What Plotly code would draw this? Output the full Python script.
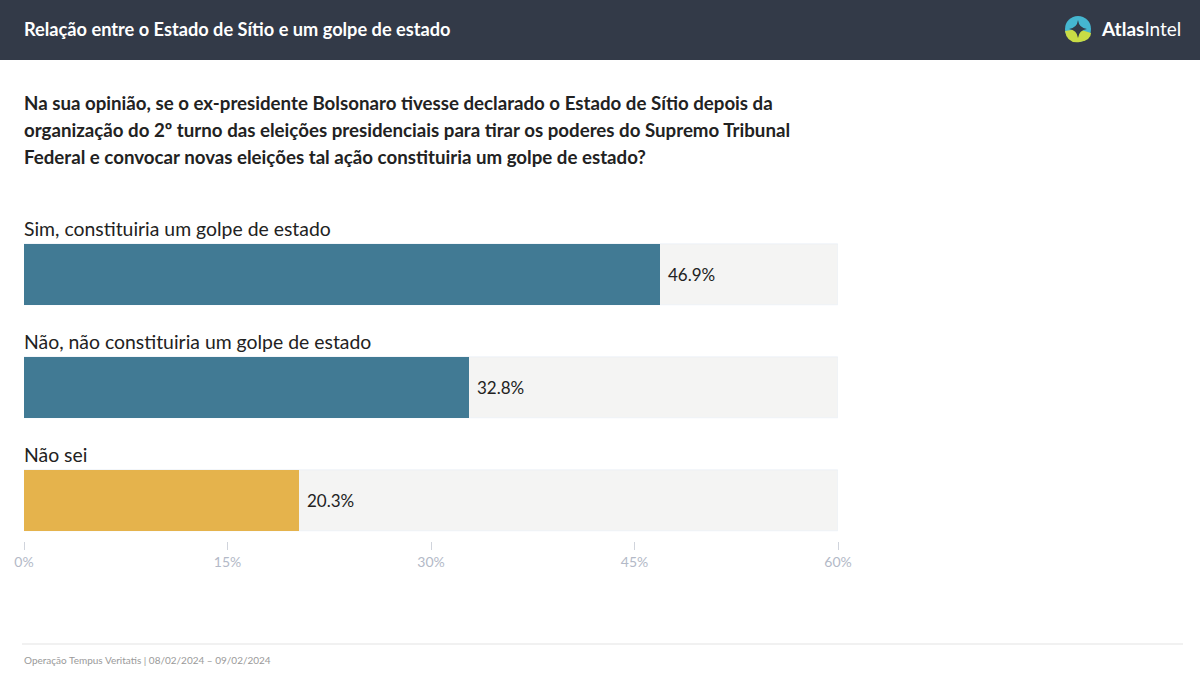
import plotly.graph_objects as go

# Data
categories = ["Sim, constituiria um golpe de estado",
              "Não, não constituiria um golpe de estado",
              "Não sei"]
values = [46.9, 32.8, 20.3]
bar_colors = ["#417a94", "#417a94", "#e5b34c"]
x_max = 60
tick_vals = [0, 15, 30, 45, 60]
tick_text = ["0%", "15%", "30%", "45%", "60%"]

title = "Relação entre o Estado de Sítio e um golpe de estado"
question = ["Na sua opinião, se o ex-presidente Bolsonaro tivesse declarado o Estado de Sítio depois da",
            "organização do 2º turno das eleições presidenciais para tirar os poderes do Supremo Tribunal",
            "Federal e convocar novas eleições tal ação constituiria um golpe de estado?"]
footer = "Operação Tempus Veritatis | 08/02/2024 – 09/02/2024"

# page geometry (pixels)
W, H = 1200, 673
L, R, T, B = 24, 838, 218, 541


def px(x):
    return (x - L) / (R - L)


def py(y):
    return (B - y) / (B - T)


ypos = list(range(len(categories)))

fig = go.Figure()
# grey track behind each bar
fig.add_trace(go.Bar(x=[x_max] * len(categories), y=ypos, orientation="h",
                     marker_color="#f4f4f3", width=0.54, hoverinfo="skip"))
fig.add_trace(go.Bar(x=values, y=ypos, orientation="h",
                     marker=dict(color=bar_colors, line_width=0), width=0.54))

for i, (c, v) in enumerate(zip(categories, values)):
    fig.add_annotation(x=0, y=i - 0.27, xref="x", yref="y", text=c,
                       showarrow=False, xanchor="left", yanchor="bottom",
                       xshift=-2, yshift=2,
                       font=dict(size=19.4, color="#222"))
    fig.add_annotation(x=v, y=i, xref="x", yref="y", text=f"{v:.1f}%",
                       showarrow=False, xanchor="left", yanchor="middle",
                       xshift=6, font=dict(size=17, color="#222"))

shapes = [
    # header band
    dict(type="rect", xref="paper", yref="paper", x0=px(0), x1=px(W),
         y0=py(60), y1=py(0), fillcolor="#333a48", line_width=0, layer="below"),
    # footer rule
    dict(type="line", xref="paper", yref="paper", x0=px(22), x1=px(1183),
         y0=py(644), y1=py(644), line=dict(color="#e3e3e3", width=1)),
    # logo circle
    dict(type="circle", xref="paper", yref="paper", x0=px(1065), x1=px(1091),
         y0=py(42), y1=py(16), fillcolor="#45b6d0", line_width=0),
]
# lower yellow part of the logo
cx, cy, r = 1078, 29, 13
shapes.append(dict(
    type="path", xref="paper", yref="paper", line_width=0, fillcolor="#c9dc45",
    path=(f"M {px(cx - r)},{py(cy + 2)} "
          f"Q {px(cx - r + 2)},{py(cy + r + 2)} {px(cx + 2)},{py(cy + r)} "
          f"Q {px(cx + r)},{py(cy + r - 2)} {px(cx + r)},{py(cy + 4)} "
          f"L {px(cx)},{py(cy)} Z")))
# dark four-point star
s = 9
shapes.append(dict(
    type="path", xref="paper", yref="paper", line_width=0, fillcolor="#333a48",
    path=(f"M {px(cx)},{py(cy - s)} Q {px(cx + 1)},{py(cy - 1)} {px(cx + s)},{py(cy)} "
          f"Q {px(cx + 1)},{py(cy + 1)} {px(cx)},{py(cy + s)} "
          f"Q {px(cx - 1)},{py(cy + 1)} {px(cx - s)},{py(cy)} "
          f"Q {px(cx - 1)},{py(cy - 1)} {px(cx)},{py(cy - s)} Z")))

fig.add_annotation(x=px(22), y=py(29), xref="paper", yref="paper", text=f"<b>{title}</b>",
                   showarrow=False, xanchor="left", yanchor="middle",
                   font=dict(size=18.2, color="white"))
fig.add_annotation(x=px(1099), y=py(29), xref="paper", yref="paper",
                   text="<b>Atlas</b>Intel", showarrow=False, xanchor="left", yanchor="middle",
                   font=dict(size=19, color="white"))
for k, line in enumerate(question):
    fig.add_annotation(x=px(22), y=py(103 + 27 * k), xref="paper", yref="paper",
                       text=f"<b>{line}</b>", showarrow=False, xanchor="left", yanchor="middle",
                       font=dict(size=18.7, color="#222"))
fig.add_annotation(x=px(22), y=py(660), xref="paper", yref="paper", text=footer,
                   showarrow=False, xanchor="left", yanchor="middle",
                   font=dict(size=10, color="#9a9a9a"))

fig.update_layout(
    width=W, height=H,
    margin=dict(l=L, r=W - R, t=T, b=H - B, pad=0),
    paper_bgcolor="white", plot_bgcolor="white",
    barmode="overlay", bargap=0, showlegend=False,
    font=dict(family="Lato, sans-serif"),
    shapes=shapes,
    xaxis=dict(range=[0, x_max], tickmode="array", tickvals=tick_vals, ticktext=tick_text,
               showgrid=False, zeroline=False, showline=False,
               ticks="outside", ticklen=8, tickcolor="#d0d4dc",
               tickfont=dict(size=14, color="#b3b9c7")),
    yaxis=dict(range=[2.358, -0.5], visible=False, fixedrange=True),
)

fig.write_html("out.html", config={"displayModeBar": False},
               post_script="document.body.style.margin='0';document.body.style.overflow='hidden';")
